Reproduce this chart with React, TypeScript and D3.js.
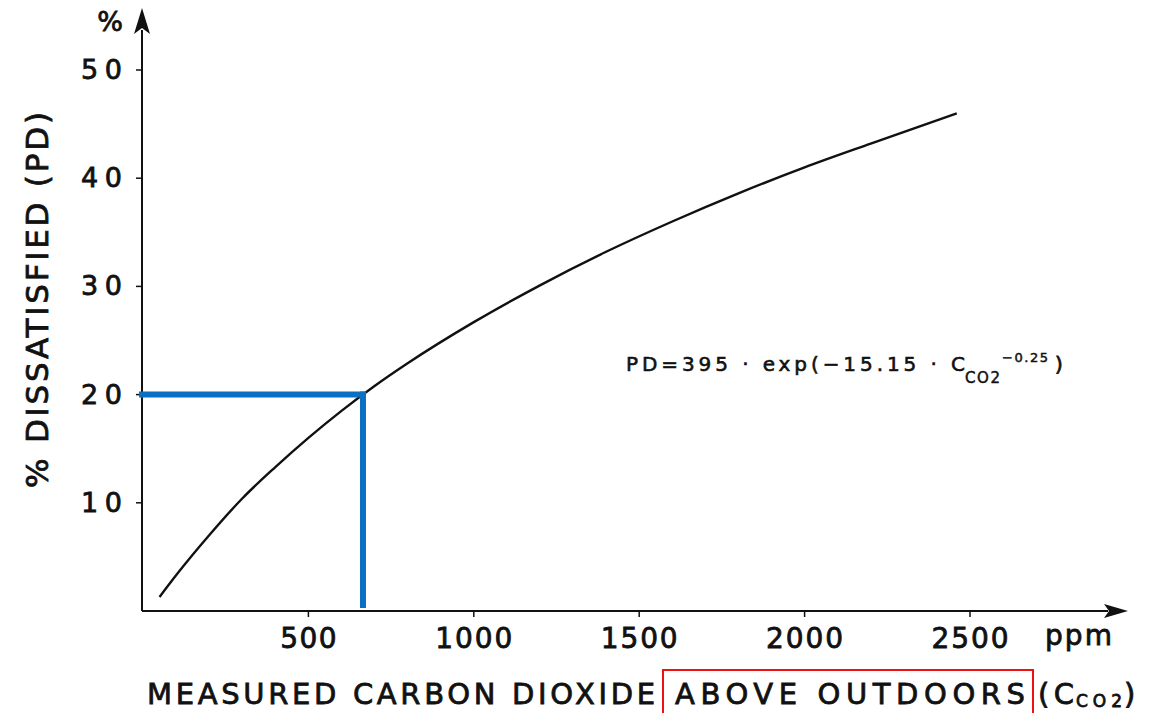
import * as d3 from "d3";

// values
const curvePpm = [50, 100, 200, 300, 400, 500, 600, 700, 800, 1000, 1200, 1400, 1600, 1800, 2000, 2200, 2460];
const curvePd = [1.3, 3.3, 7.0, 10.4, 13.3, 16.0, 18.5, 20.8, 22.9, 26.7, 30.1, 33.2, 36.0, 38.6, 41.0, 43.2, 46.0];
const xTicks = [500, 1000, 1500, 2000, 2500];
const yTicks = [10, 20, 30, 40, 50];
const markerPpm = 665;
const markerPd = 20;

const W = 1163;
const H = 713;
const FONT = "'DejaVu Sans', 'Liberation Sans', Arial, sans-serif";
const BLUE = "#0b6fc2";
const RED = "#ee1111";

export default function App() {
  const x = d3.scaleLinear().domain([0, 2500]).range([143, 970]);
  const y = d3.scaleLinear().domain([0, 50]).range([611, 70]);

  const pts = curvePpm.map((c, i) => [c, curvePd[i]] as [number, number]);
  const line = d3
    .line<[number, number]>()
    .x((d) => x(d[0]))
    .y((d) => y(d[1]))
    .curve(d3.curveMonotoneX);

  const x0 = x(0);
  const y0 = y(0);
  const textStyle = { fontFamily: FONT, fill: "#111", stroke: "#111", strokeWidth: 0.8 };

  return (
    <svg
      width={W}
      height={H}
      viewBox={`0 0 ${W} ${H}`}
      style={{ position: "absolute", left: 0, top: 0, background: "#fff" }}
    >
      {/* axes */}
      <line x1={x0 - 1} y1={y0} x2={x0 - 1} y2={30} stroke="#111" strokeWidth={2} />
      <path d={`M${x0 - 9},${34} L${x0 - 1},${8} L${x0 + 7},${34} L${x0 - 1},${28} Z`} fill="#111" />
      <line x1={x0 - 1} y1={y0} x2={1108} y2={y0} stroke="#111" strokeWidth={2} />
      <path d={`M1104,${y0 - 7} L1128,${y0} L1104,${y0 + 7} L1109,${y0} Z`} fill="#111" />

      {yTicks.map((t) => (
        <g key={t}>
          <line x1={x0 - 7} x2={x0 - 1} y1={y(t)} y2={y(t)} stroke="#111" strokeWidth={1.5} />
          <text
            x={122}
            y={y(t) + 9}
            textAnchor="end"
            fontSize={27}
            textLength={41}
            lengthAdjust="spacing"
            style={textStyle}
          >
            {t}
          </text>
        </g>
      ))}
      <text x={110} y={31} textAnchor="middle" fontSize={27} style={textStyle}>
        %
      </text>

      {xTicks.map((t) => (
        <g key={t}>
          <line x1={x(t)} x2={x(t)} y1={y0} y2={y0 + 6} stroke="#111" strokeWidth={1.5} />
          <text
            x={x(t)}
            y={648}
            textAnchor="middle"
            fontSize={28}
            textLength={String(t).length * 20.5 - 5}
            lengthAdjust="spacing"
            style={textStyle}
          >
            {t}
          </text>
        </g>
      ))}
      <text x={1045} y={645} fontSize={28} textLength={67} lengthAdjust="spacing" style={textStyle}>
        ppm
      </text>

      {/* axis titles */}
      <text
        transform="translate(48,300) rotate(-90)"
        textAnchor="middle"
        fontSize={31}
        textLength={376}
        lengthAdjust="spacing"
        style={textStyle}
      >
        % DISSATISFIED (PD)
      </text>
      <text x={147} y={704} fontSize={29} textLength={508} lengthAdjust="spacing" style={textStyle}>
        MEASURED CARBON DIOXIDE
      </text>
      <text x={675} y={704} fontSize={29} textLength={350} lengthAdjust="spacing" style={textStyle}>
        ABOVE  OUTDOORS
      </text>
      <text x={1038} y={704} fontSize={29} textLength={36} lengthAdjust="spacing" style={textStyle}>
        (C
      </text>
      <text x={1076} y={707} fontSize={17} textLength={46} lengthAdjust="spacing" style={textStyle}>
        CO2
      </text>
      <text x={1124} y={704} fontSize={29} style={textStyle}>
        )
      </text>
      <rect x={663} y={670} width={370} height={60} fill="none" stroke={RED} strokeWidth={2} />

      {/* formula */}
      <text x={626} y={371} fontSize={20} textLength={339} lengthAdjust="spacing" style={{ ...textStyle, strokeWidth: 0.6 }}>
        PD=395 · exp(−15.15 · C
      </text>
      <text x={965} y={383} fontSize={15} textLength={35} lengthAdjust="spacing" style={{ ...textStyle, strokeWidth: 0.5 }}>
        CO2
      </text>
      <text x={1002} y={362} fontSize={13} textLength={46} lengthAdjust="spacing" style={{ ...textStyle, strokeWidth: 0.5 }}>
        −0.25
      </text>
      <text x={1055} y={371} fontSize={20} style={textStyle}>
        )
      </text>

      {/* curve */}
      <path d={line(pts) ?? ""} fill="none" stroke="#111" strokeWidth={2.4} />

      {/* reading at 20 % dissatisfied */}
      <line
        x1={x0 - 4}
        x2={x(markerPpm) + 3}
        y1={y(markerPd)}
        y2={y(markerPd)}
        stroke={BLUE}
        strokeWidth={6}
      />
      <line
        x1={x(markerPpm)}
        x2={x(markerPpm)}
        y1={y(markerPd) - 3}
        y2={y0 - 3}
        stroke={BLUE}
        strokeWidth={6}
      />
    </svg>
  );
}
